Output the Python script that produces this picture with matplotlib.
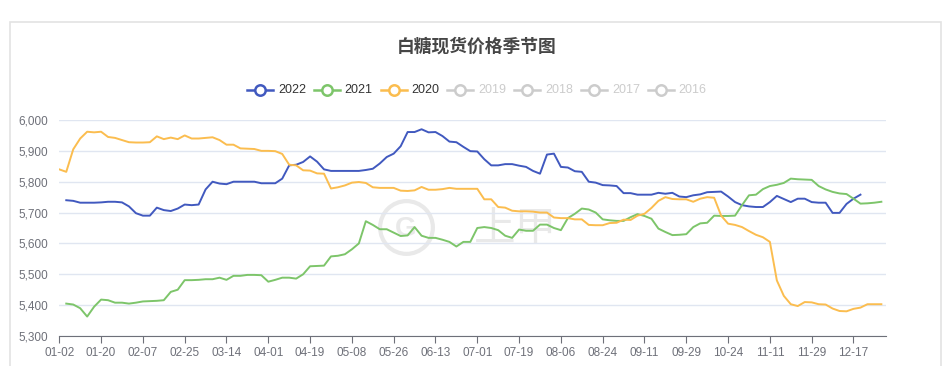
import matplotlib.pyplot as plt
from matplotlib.lines import Line2D
from matplotlib.patches import Rectangle
import numpy as np

plt.rcParams['font.family'] = ['Liberation Sans', 'Noto Sans CJK SC', 'DejaVu Sans']

# category axis: one category per calendar slot, label every 18 slots
tick_labels = ["01-02", "01-20", "02-07", "02-25", "03-14", "04-01", "04-19",
               "05-08", "05-26", "06-13", "07-01", "07-19", "08-06", "08-24",
               "09-11", "09-29", "10-24", "11-11", "11-29", "12-17"]
label_step = 18
n_cat = 357
sample_step = 3   # values below are read every 3 categories

nan = np.nan

s2022 = [nan, 5740, 5738, 5732, 5732, 5732, 5733, 5735, 5735, 5733,
         5720, 5698, 5690, 5690, 5716, 5708, 5705, 5713, 5726, 5724,
         5726, 5775, 5800, 5794, 5792, 5800, 5800, 5800, 5800, 5795,
         5795, 5795, 5810, 5853, 5855, 5864, 5882, 5865, 5840, 5835,
         5835, 5835, 5835, 5835, 5838, 5842, 5859, 5880, 5891, 5915,
         5961, 5961, 5970, 5960, 5961, 5948, 5930, 5928, 5913, 5899,
         5898, 5873, 5853, 5853, 5857, 5857, 5852, 5848, 5835, 5826,
         5888, 5891, 5848, 5846, 5834, 5832, 5800, 5797, 5789, 5788,
         5786, 5763, 5763, 5758, 5758, 5758, 5764, 5761, 5764, 5752,
         5750, 5756, 5759, 5766, 5767, 5768, 5752, 5734, 5724, 5720,
         5718, 5718, 5734, 5754, 5744, 5734, 5745, 5745, 5734, 5732,
         5732, 5699, 5699, 5728, 5745, 5758]

s2021 = [nan, 5405, 5402, 5390, 5363, 5395, 5418, 5416, 5408, 5408,
         5405, 5408, 5412, 5413, 5414, 5416, 5443, 5450, 5481, 5481,
         5482, 5484, 5484, 5489, 5482, 5495, 5495, 5498, 5498, 5497,
         5476, 5482, 5489, 5489, 5486, 5500, 5526, 5527, 5528, 5558,
         5560, 5565, 5581, 5600, 5672, 5660, 5646, 5646, 5635, 5624,
         5626, 5653, 5625, 5618, 5618, 5612, 5605, 5590, 5605, 5605,
         5650, 5653, 5650, 5643, 5625, 5618, 5645, 5641, 5641, 5661,
         5661, 5650, 5643, 5682, 5696, 5713, 5710, 5700, 5678, 5675,
         5673, 5673, 5685, 5695, 5689, 5680, 5648, 5637, 5627, 5628,
         5630, 5653, 5665, 5667, 5690, 5689, 5689, 5690, 5724, 5756,
         5758, 5776, 5786, 5790, 5796, 5810, 5808, 5807, 5806, 5786,
         5775, 5767, 5762, 5760, 5745, 5729, 5730, 5732, 5735]

s2020 = [5840, 5832, 5905, 5940, 5962, 5960, 5962, 5945, 5942, 5935,
         5928, 5927, 5927, 5928, 5947, 5938, 5943, 5938, 5950, 5940,
         5940, 5942, 5944, 5935, 5920, 5920, 5908, 5907, 5906, 5900,
         5900, 5899, 5890, 5855, 5853, 5837, 5836, 5827, 5826, 5778,
         5782, 5788, 5797, 5799, 5796, 5782, 5780, 5780, 5780, 5771,
         5770, 5772, 5783, 5774, 5774, 5776, 5780, 5777, 5777, 5777,
         5777, 5743, 5743, 5718, 5716, 5706, 5704, 5704, 5703, 5700,
         5700, 5684, 5682, 5682, 5678, 5678, 5660, 5659, 5659, 5666,
         5667, 5677, 5676, 5690, 5696, 5715, 5738, 5750, 5744, 5743,
         5743, 5735, 5745, 5750, 5748, 5690, 5664, 5660, 5653, 5640,
         5628, 5620, 5605, 5480, 5430, 5403, 5397, 5410, 5409, 5403,
         5402, 5389, 5381, 5380, 5388, 5392, 5403, 5403, 5403]

series = [("2022", s2022, "#4159bf"), ("2021", s2021, "#7dc56a"), ("2020", s2020, "#fbbd4f")]
hidden = ["2019", "2018", "2017", "2016"]

W, H = 945, 366
fig = plt.figure(figsize=(W / 100, H / 100), dpi=100)

# card outline
fig.add_artist(Rectangle((10 / W, -0.1), 931 / W, 1.1 - 22 / H, transform=fig.transFigure,
                         fill=False, edgecolor="#e3e3e3", linewidth=1.2))

ax = fig.add_axes([59.3 / W, 1 - 336 / H, (886 - 59.3) / W, 216 / H])
ax.patch.set_alpha(0)

# faint watermark, kept behind the axes
wm = "#e9e9e9"
fig.add_artist(Line2D([406 / W], [1 - 227 / H], transform=fig.transFigure, marker="o",
                      markersize=38, markerfacecolor="none", markeredgecolor=wm,
                      markeredgewidth=3, zorder=-1))
fig.text(406 / W, 1 - 229 / H, "G", ha="center", va="center", fontsize=20,
         color=wm, fontweight="bold", zorder=-1)
fig.text(515 / W, 1 - 229 / H, "上甲", ha="center", va="center", fontsize=30,
         color=wm, family=["Noto Sans CJK SC"], zorder=-1)

for name, vals, col in series:
    xs = np.arange(len(vals)) * sample_step
    ax.plot(xs, vals, color=col, linewidth=1.4, solid_joinstyle="round", zorder=3)

ax.set_xlim(0, n_cat - 1)
ax.set_ylim(5300, 6000)
ax.set_yticks(np.arange(5300, 6001, 100))
ax.set_yticklabels([f"{v:,}" for v in range(5300, 6001, 100)])
ax.set_xticks(np.arange(len(tick_labels)) * label_step)
ax.set_xticklabels(tick_labels)

ax.grid(axis="y", color="#e0e6f1", linewidth=1)
ax.set_axisbelow(True)
for side in ["top", "right", "left"]:
    ax.spines[side].set_visible(False)
ax.spines["bottom"].set_color("#6e7079")
ax.tick_params(axis="y", length=0, pad=8, labelsize=8.5, labelcolor="#6e7079")
ax.tick_params(axis="x", length=5, color="#6e7079", pad=3, labelsize=8.5, labelcolor="#6e7079")

fig.text(477 / W, 1 - 47 / H, "白糖现货价格季节图", ha="center", va="center",
         fontsize=12.8, fontweight="bold", color="#464646")

# legend row
ly = 1 - 90 / H
items = [(n, c, True) for n, v, c in series] + [(n, "#cccccc", False) for n in hidden]
for i, (name, col, on) in enumerate(items):
    cx = 260 + i * 66.8
    fig.add_artist(Line2D([(cx - 13) / W, (cx + 13) / W], [ly, ly], transform=fig.transFigure,
                          color=col, linewidth=1.8))
    fig.add_artist(Line2D([cx / W], [ly], transform=fig.transFigure, marker="o", markersize=7.5,
                          markerfacecolor="white", markeredgecolor=col, markeredgewidth=1.8))
    fig.text((cx + 18) / W, ly, name, ha="left", va="center", fontsize=9,
             color="#333333" if on else "#cccccc")

fig.savefig("out.png", dpi=100)
